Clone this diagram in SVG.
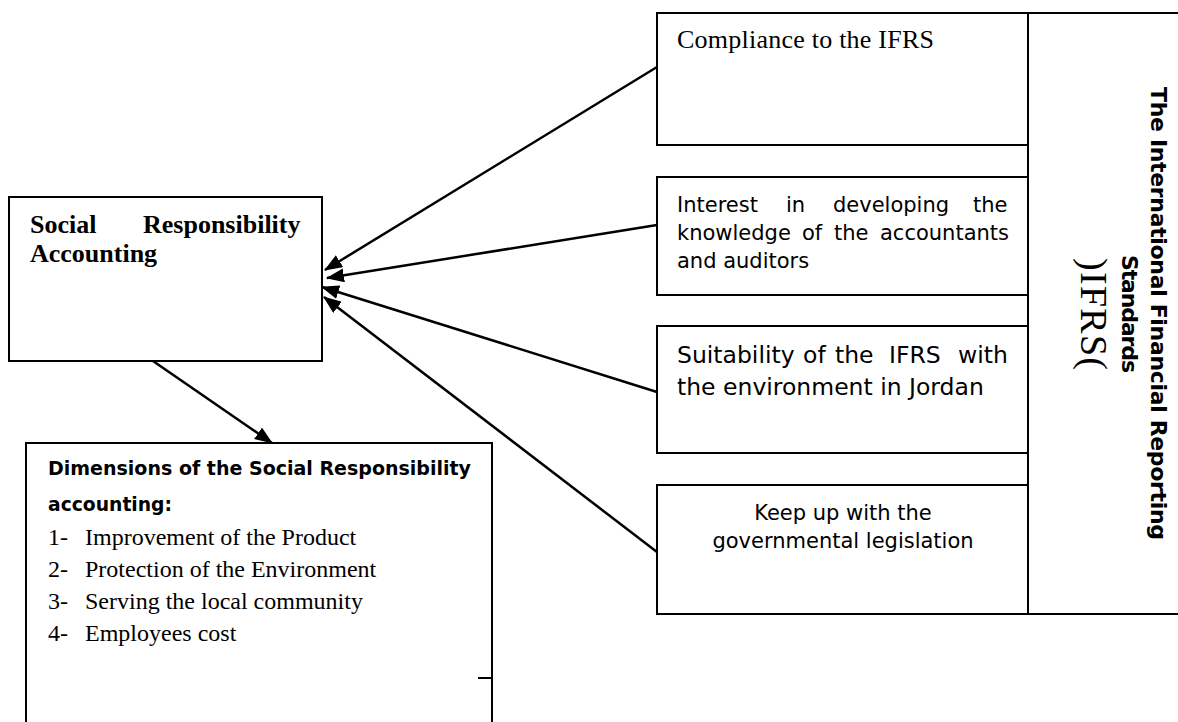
<svg xmlns="http://www.w3.org/2000/svg" width="1178" height="722" viewBox="0 0 1178 722">
<defs>
<marker id="ah" viewBox="0 0 18 14" refX="17" refY="7" markerWidth="18" markerHeight="14" markerUnits="userSpaceOnUse" orient="auto"><path d="M0,0 L18,7 L0,14 z" fill="#000"/></marker>
</defs>
<style>
.box{fill:#fff;stroke:#000;stroke-width:2}
.ln{fill:none;stroke:#000;stroke-width:2}
.conn{stroke:#000;stroke-width:2.5;fill:none;marker-end:url(#ah)}
.serif{font-family:"Liberation Serif","Times New Roman",serif;fill:#000}
.sans{font-family:"DejaVu Sans",Verdana,sans-serif;fill:#000}
.b{font-weight:bold}
</style>
<rect width="1178" height="722" fill="#fff"/>

<g id="sra">
<rect class="box" x="9" y="197" width="313" height="164"/>
<text class="serif b" font-size="26"><tspan x="30" y="233">Social</tspan><tspan x="143" y="233">Responsibility</tspan><tspan x="30" y="262">Accounting</tspan></text>
</g>

<g id="dimensions">
<path class="ln" d="M26,724 V443 H492 V724"/>
<path class="ln" d="M478,678 H492"/>
<text class="sans b" font-size="20" x="48" y="475" textLength="423" lengthAdjust="spacingAndGlyphs">Dimensions of the Social Responsibility</text>
<text class="sans b" font-size="20" x="48" y="511" textLength="124" lengthAdjust="spacingAndGlyphs">accounting:</text>
<g class="serif" font-size="24">
<text x="48" y="545">1-</text><text x="85" y="545">Improvement of the Product</text>
<text x="48" y="577">2-</text><text x="85" y="577">Protection of the Environment</text>
<text x="48" y="609">3-</text><text x="85" y="609">Serving the local community</text>
<text x="48" y="641">4-</text><text x="85" y="641">Employees cost</text>
</g>
</g>

<g id="compliance">
<rect class="box" x="657" y="13" width="371" height="132"/>
<text class="serif" font-size="26" x="677" y="48" textLength="257">Compliance to the IFRS</text>
</g>

<g id="interest">
<rect class="box" x="657" y="177" width="371" height="118"/>
<text class="sans" font-size="21">
<tspan x="677" y="212">Interest</tspan><tspan x="786" y="212">in</tspan><tspan x="833" y="212">developing</tspan><tspan x="973" y="212">the</tspan>
<tspan x="677" y="240">knowledge</tspan><tspan x="802" y="240">of</tspan><tspan x="834" y="240">the</tspan><tspan x="880" y="240">accountants</tspan>
<tspan x="677" y="268">and auditors</tspan>
</text>
</g>

<g id="suitability">
<rect class="box" x="657" y="326" width="371" height="127"/>
<text class="sans" font-size="23.5">
<tspan x="677" y="363">Suitability</tspan><tspan x="803" y="363">of</tspan><tspan x="835" y="363">the</tspan><tspan x="889" y="363">IFRS</tspan><tspan x="958" y="363">with</tspan>
<tspan x="677" y="395">the environment in Jordan</tspan>
</text>
</g>

<g id="keepup">
<rect class="box" x="657" y="485" width="371" height="129"/>
<text class="sans" font-size="21" text-anchor="middle"><tspan x="843" y="520">Keep up with the</tspan><tspan x="843" y="548">governmental legislation</tspan></text>
</g>

<g id="ifrs">
<path class="ln" d="M1028,13 H1180 M1028,614 H1180 M1028,13 V614"/>
<text class="sans b" font-size="22" text-anchor="middle" transform="translate(1151,313.5) rotate(90)" x="0" y="0" textLength="453">The International Financial Reporting</text>
<text class="sans b" font-size="22" text-anchor="middle" transform="translate(1122,314) rotate(90)" x="0" y="0" textLength="118">Standards</text>
<text class="serif" font-size="38" text-anchor="middle" transform="translate(1081,314) rotate(90)" x="0" y="0" textLength="112">)IFRS(</text>
</g>

<g id="connectors">
<line class="conn" x1="657" y1="67" x2="325" y2="270"/>
<line class="conn" x1="657" y1="225" x2="327" y2="278"/>
<line class="conn" x1="657" y1="392" x2="322" y2="287"/>
<line class="conn" x1="657" y1="552" x2="324" y2="297"/>
<line class="conn" x1="153" y1="361" x2="272" y2="443"/>
</g>
</svg>
